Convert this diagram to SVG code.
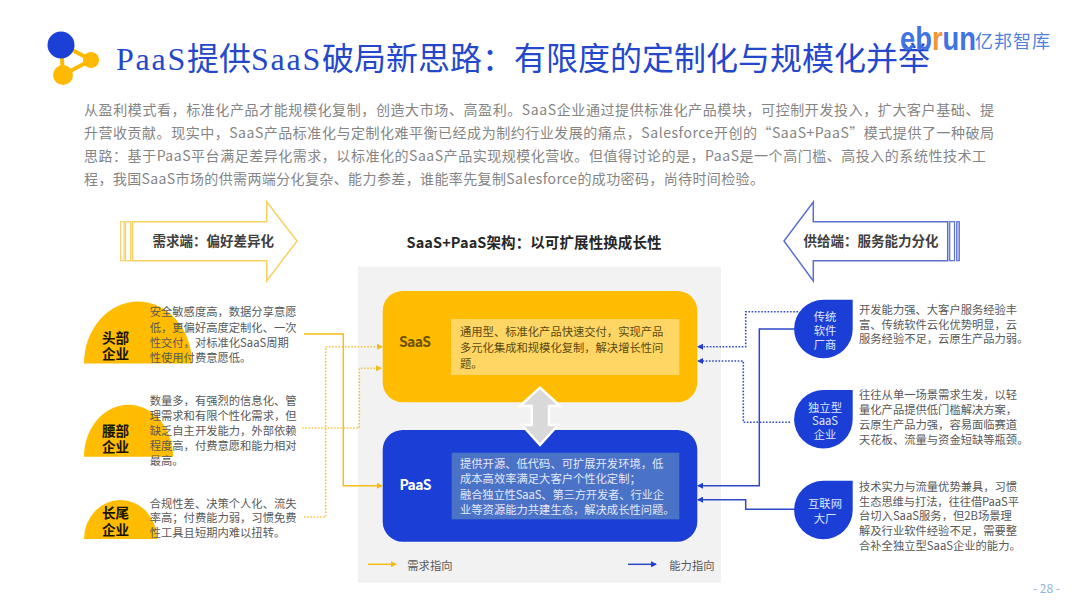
<svg xmlns="http://www.w3.org/2000/svg" width="1080" height="608" viewBox="0 0 1080 608">
<style>
text{font-family:"Noto Sans CJK SC","Liberation Sans",sans-serif}
.title{font-family:"Liberation Serif","Noto Sans CJK SC",serif;font-size:32px;fill:#2447cc}
.lat{letter-spacing:1.75px}
.body{font-size:14px;fill:#858585}
.d{font-size:11.3px;fill:#595959}
.h{font-size:13.5px;font-weight:700;fill:#404040}
.k{font-size:13.6px;font-weight:700;fill:#1a1300;text-anchor:middle}
.n{font-size:11.3px;fill:#dfe6fb;text-anchor:middle}
.i{font-size:11.3px;fill:#5a4a12}
.j{font-size:11.3px;fill:#e3e9f8}
.y{fill:#ffbc00}
.b{fill:#1b3fd6}
.cy{fill:none;stroke:#f6bd16;stroke-width:1.5}
.cyd{fill:none;stroke:#f6c642;stroke-width:1.6;stroke-dasharray:1.6 1.6}
.cb{fill:none;stroke:#2d49c8;stroke-width:1.5}
.cbd{fill:none;stroke:#2d49c8;stroke-width:1.6;stroke-dasharray:1.6 1.6}
</style>
<defs>
<marker id="ay" markerWidth="6" markerHeight="6" refX="5" refY="3" orient="auto" markerUnits="userSpaceOnUse"><path d="M0 0L6 3L0 6Z" fill="#f6b91a"/></marker>
<marker id="ab" markerWidth="6" markerHeight="6" refX="5" refY="3" orient="auto" markerUnits="userSpaceOnUse"><path d="M0 0L6 3L0 6Z" fill="#2040d0"/></marker>
</defs>
<rect width="1080" height="608" fill="#fff"/>
<g id="title-icon">
<path d="M61 44L91 60L63 75Z" fill="none" stroke="#ffb900" stroke-width="4"/>
<circle cx="91" cy="60" r="8" fill="#ffb900"/><circle cx="63" cy="75" r="10" fill="#ffb900"/><circle cx="61" cy="45" r="13.5" fill="#1c3fd6"/>
</g>
<text class="title" x="116" y="70"><tspan class="lat">PaaS</tspan>提供<tspan class="lat">SaaS</tspan>破局新思路&#xFF1A;有限度的定制化与规模化并举</text>
<g id="logo">
<text x="900" y="50" textLength="76" lengthAdjust="spacingAndGlyphs" style="font-family:'Liberation Sans',sans-serif;font-size:34px;font-weight:700;fill:#3f74e2">eb<tspan fill="#f0953a">r</tspan>un</text>
<text x="975" y="48" textLength="75" style="font-size:18px;fill:#4f7fe0">亿邦智库</text>
</g>
<g id="intro">
<text class="body" x="84" y="115" textLength="910">从盈利模式看&#xFF0C;标准化产品才能规模化复制&#xFF0C;创造大市场、高盈利。SaaS企业通过提供标准化产品模块&#xFF0C;可控制开发投入&#xFF0C;扩大客户基础、提</text>
<text class="body" x="84" y="138" textLength="910">升营收贡献。现实中&#xFF0C;SaaS产品标准化与定制化难平衡已经成为制约行业发展的痛点&#xFF0C;Salesforce开创的“SaaS+PaaS”模式提供了一种破局</text>
<text class="body" x="84" y="161" textLength="902">思路&#xFF1A;基于PaaS平台满足差异化需求&#xFF0C;以标准化的SaaS产品实现规模化营收。但值得讨论的是&#xFF0C;PaaS是一个高门槛、高投入的系统性技术工</text>
<text class="body" x="84" y="184" textLength="680">程&#xFF0C;我国SaaS市场的供需两端分化复杂、能力参差&#xFF0C;谁能率先复制Salesforce的成功密码&#xFF0C;尚待时间检验。</text>
</g>
<g id="demand-arrow">
<path d="M132.500 221.700H266.700V201.700L297 241L266.700 281V260.700H132.500Z" fill="#fff" stroke="#f7d15f" stroke-width="1.500"/>
<rect x="120.700" y="221.700" width="3.400" height="39" fill="#fff" stroke="#f7d15f" stroke-width="1.200"/>
<rect x="125.500" y="221.700" width="5.200" height="39" fill="#fff" stroke="#f7d15f" stroke-width="1.200"/>
<text class="h" x="152.500" y="246">需求端&#xFF1A;偏好差异化</text>
</g>
<g id="supply-arrow">
<path d="M947.700 221.700H813.300V202L784 241L813.300 281V260.700H947.700Z" fill="#fff" stroke="#5a6fd0" stroke-width="1.500"/>
<rect x="949.700" y="221.700" width="4.800" height="39" fill="#fff" stroke="#5a6fd0" stroke-width="1.200"/>
<rect x="956.700" y="221.700" width="2.600" height="39" fill="#c8d2f4" stroke="#5a6fd0" stroke-width="1.200"/>
<text class="h" x="803.500" y="246">供给端&#xFF1A;服务能力分化</text>
</g>
<text id="center-heading" x="406.500" y="247.500" textLength="255" style="font-size:14.500px;font-weight:700;fill:#262626">SaaS+PaaS架构&#xFF1A;以可扩展性换成长性</text>
<rect id="panel" x="358" y="266.700" width="363" height="316" fill="#f2f2f2"/>
<g id="saas">
<rect class="y" x="382.700" y="291" width="314.600" height="111.300" rx="20"/>
<rect x="451" y="319" width="228.300" height="56" fill="#ffd564"/>
<text x="399" y="347" style="font-size:14px;font-weight:700;fill:#6d5200" textLength="32">SaaS</text>
<text class="i" x="460" y="336">通用型、标准化产品快速交付&#xFF0C;实现产品</text>
<text class="i" x="460" y="352">多元化集成和规模化复制&#xFF0C;解决增长性问</text>
<text class="i" x="460" y="368">题。</text>
</g>
<g id="paas">
<rect class="b" x="382.700" y="430" width="314.600" height="111.700" rx="20"/>
<rect x="451.700" y="452.700" width="227.600" height="66.600" fill="#4a72c6"/>
<text x="399.500" y="490" style="font-size:14px;font-weight:700;fill:#fff" textLength="32">PaaS</text>
<text class="j" x="460" y="468">提供开源、低代码、可扩展开发环境&#xFF0C;低</text>
<text class="j" x="460" y="483">成本高效率满足大客户个性化定制&#xFF1B;</text>
<text class="j" x="460" y="499" textLength="204">融合独立性SaaS、第三方开发者、行业企</text>
<text class="j" x="460" y="514">业等资源能力共建生态&#xFF0C;解决成长性问题。</text>
</g>
<path id="double-arrow" d="M540 387.700L560 406H549V425H558L540 445L522 425H531.700V406H520Z" fill="#d9d9d9" stroke="#fff" stroke-width="2.500"/>
<g id="head-node">
<path class="y" d="M84 363.500A54 62 0 0 1 192 363.500Z"/>
<text class="k" x="115.500" y="343">头部</text><text class="k" x="115.500" y="359">企业</text>
<text class="d" x="149.700" y="316">安全敏感度高&#xFF0C;数据分享意愿</text>
<text class="d" x="149.700" y="332">低&#xFF0C;更偏好高度定制化、一次</text>
<text class="d" x="149.700" y="347">性交付&#xFF0C;对标准化SaaS周期</text>
<text class="d" x="149.700" y="362">性使用付费意愿低。</text>
</g>
<g id="mid-node">
<path class="y" d="M84 456.700A44.500 52 0 0 1 173 456.700Z"/>
<text class="k" x="115.500" y="436">腰部</text><text class="k" x="115.500" y="452">企业</text>
<text class="d" x="149.700" y="405">数量多&#xFF0C;有强烈的信息化、管</text>
<text class="d" x="149.700" y="420">理需求和有限个性化需求&#xFF0C;但</text>
<text class="d" x="149.700" y="435">缺乏自主开发能力&#xFF0C;外部依赖</text>
<text class="d" x="149.700" y="450">程度高&#xFF0C;付费意愿和能力相对</text>
<text class="d" x="149.700" y="465">最高。</text>
</g>
<g id="tail-node">
<path class="y" d="M84 539A36.500 39 0 0 1 157 539Z"/>
<text class="k" x="115.500" y="518">长尾</text><text class="k" x="115.500" y="534.500">企业</text>
<text class="d" x="149.700" y="508">合规性差、决策个人化、流失</text>
<text class="d" x="149.700" y="522">率高&#xFF1B;付费能力弱&#xFF0C;习惯免费</text>
<text class="d" x="149.700" y="536.500">性工具且短期内难以扭转。</text>
</g>
<g id="traditional-node">
<path class="b" d="M852.700 299.700V329A29.300 29.300 0 1 1 823.400 299.700Z"/>
<text class="n" x="825" y="321">传统</text><text class="n" x="825" y="335">软件</text><text class="n" x="825" y="349">厂商</text>
<text class="d" x="859" y="314">开发能力强、大客户服务经验丰</text>
<text class="d" x="859" y="328.500">富、传统软件云化优势明显&#xFF0C;云</text>
<text class="d" x="859" y="343">服务经验不足&#xFF0C;云原生产品力弱。</text>
</g>
<g id="independent-node">
<path class="b" d="M852.700 390V419.300A29.300 29.300 0 1 1 823.400 390Z"/>
<text class="n" x="825" y="411.500">独立型</text><text class="n" x="825" y="425">SaaS</text><text class="n" x="825" y="438.500">企业</text>
<text class="d" x="859" y="399">往往从单一场景需求生发&#xFF0C;以轻</text>
<text class="d" x="859" y="414">量化产品提供低门槛解决方案&#xFF0C;</text>
<text class="d" x="859" y="429">云原生产品力强&#xFF0C;容易面临赛道</text>
<text class="d" x="859" y="444">天花板、流量与资金短缺等瓶颈。</text>
</g>
<g id="internet-node">
<path class="b" d="M852.700 480.700V510A29.300 29.300 0 1 1 823.400 480.700Z"/>
<text class="n" x="825" y="508">互联网</text><text class="n" x="825" y="522.500">大厂</text>
<text class="d" x="859" y="491">技术实力与流量优势兼具&#xFF0C;习惯</text>
<text class="d" x="859" y="505.500" textLength="160">生态思维与打法&#xFF0C;往往借PaaS平</text>
<text class="d" x="859" y="520">台切入SaaS服务&#xFF0C;但2B场景理</text>
<text class="d" x="859" y="535">解及行业软件经验不足&#xFF0C;需要整</text>
<text class="d" x="859" y="550">合补全独立型SaaS企业的能力。</text>
</g>
<g id="connectors">
<path class="cy" marker-end="url(#ay)" d="M304 334H343.300V485.700H382"/>
<path class="cyd" marker-end="url(#ay)" d="M304 517H325.700V346.700H382"/>
<path class="cyd" marker-end="url(#ay)" d="M302 428H359.300V368.300H381"/>
<path class="cbd" marker-end="url(#ab)" d="M798 311.700H745.700V346.700H698"/>
<path class="cb" marker-end="url(#ab)" d="M795 329H759.300V485.700H698"/>
<path class="cbd" marker-end="url(#ab)" d="M790 422.300H743.300V361H698"/>
<path class="cb" marker-end="url(#ab)" d="M795 509.300H745.700V499.700H698"/>
<path class="cy" marker-end="url(#ay)" d="M368 564.300H396"/>
<path class="cb" marker-end="url(#ab)" d="M628 564.300H656"/>
</g>
<g id="legend">
<text class="d" x="407.300" y="570">需求指向</text>
<text class="d" x="669.300" y="570">能力指向</text>
</g>
<text id="page" x="1033" y="593" style="font-size:12px;fill:#8fb4dc">- 28 -</text>
</svg>
